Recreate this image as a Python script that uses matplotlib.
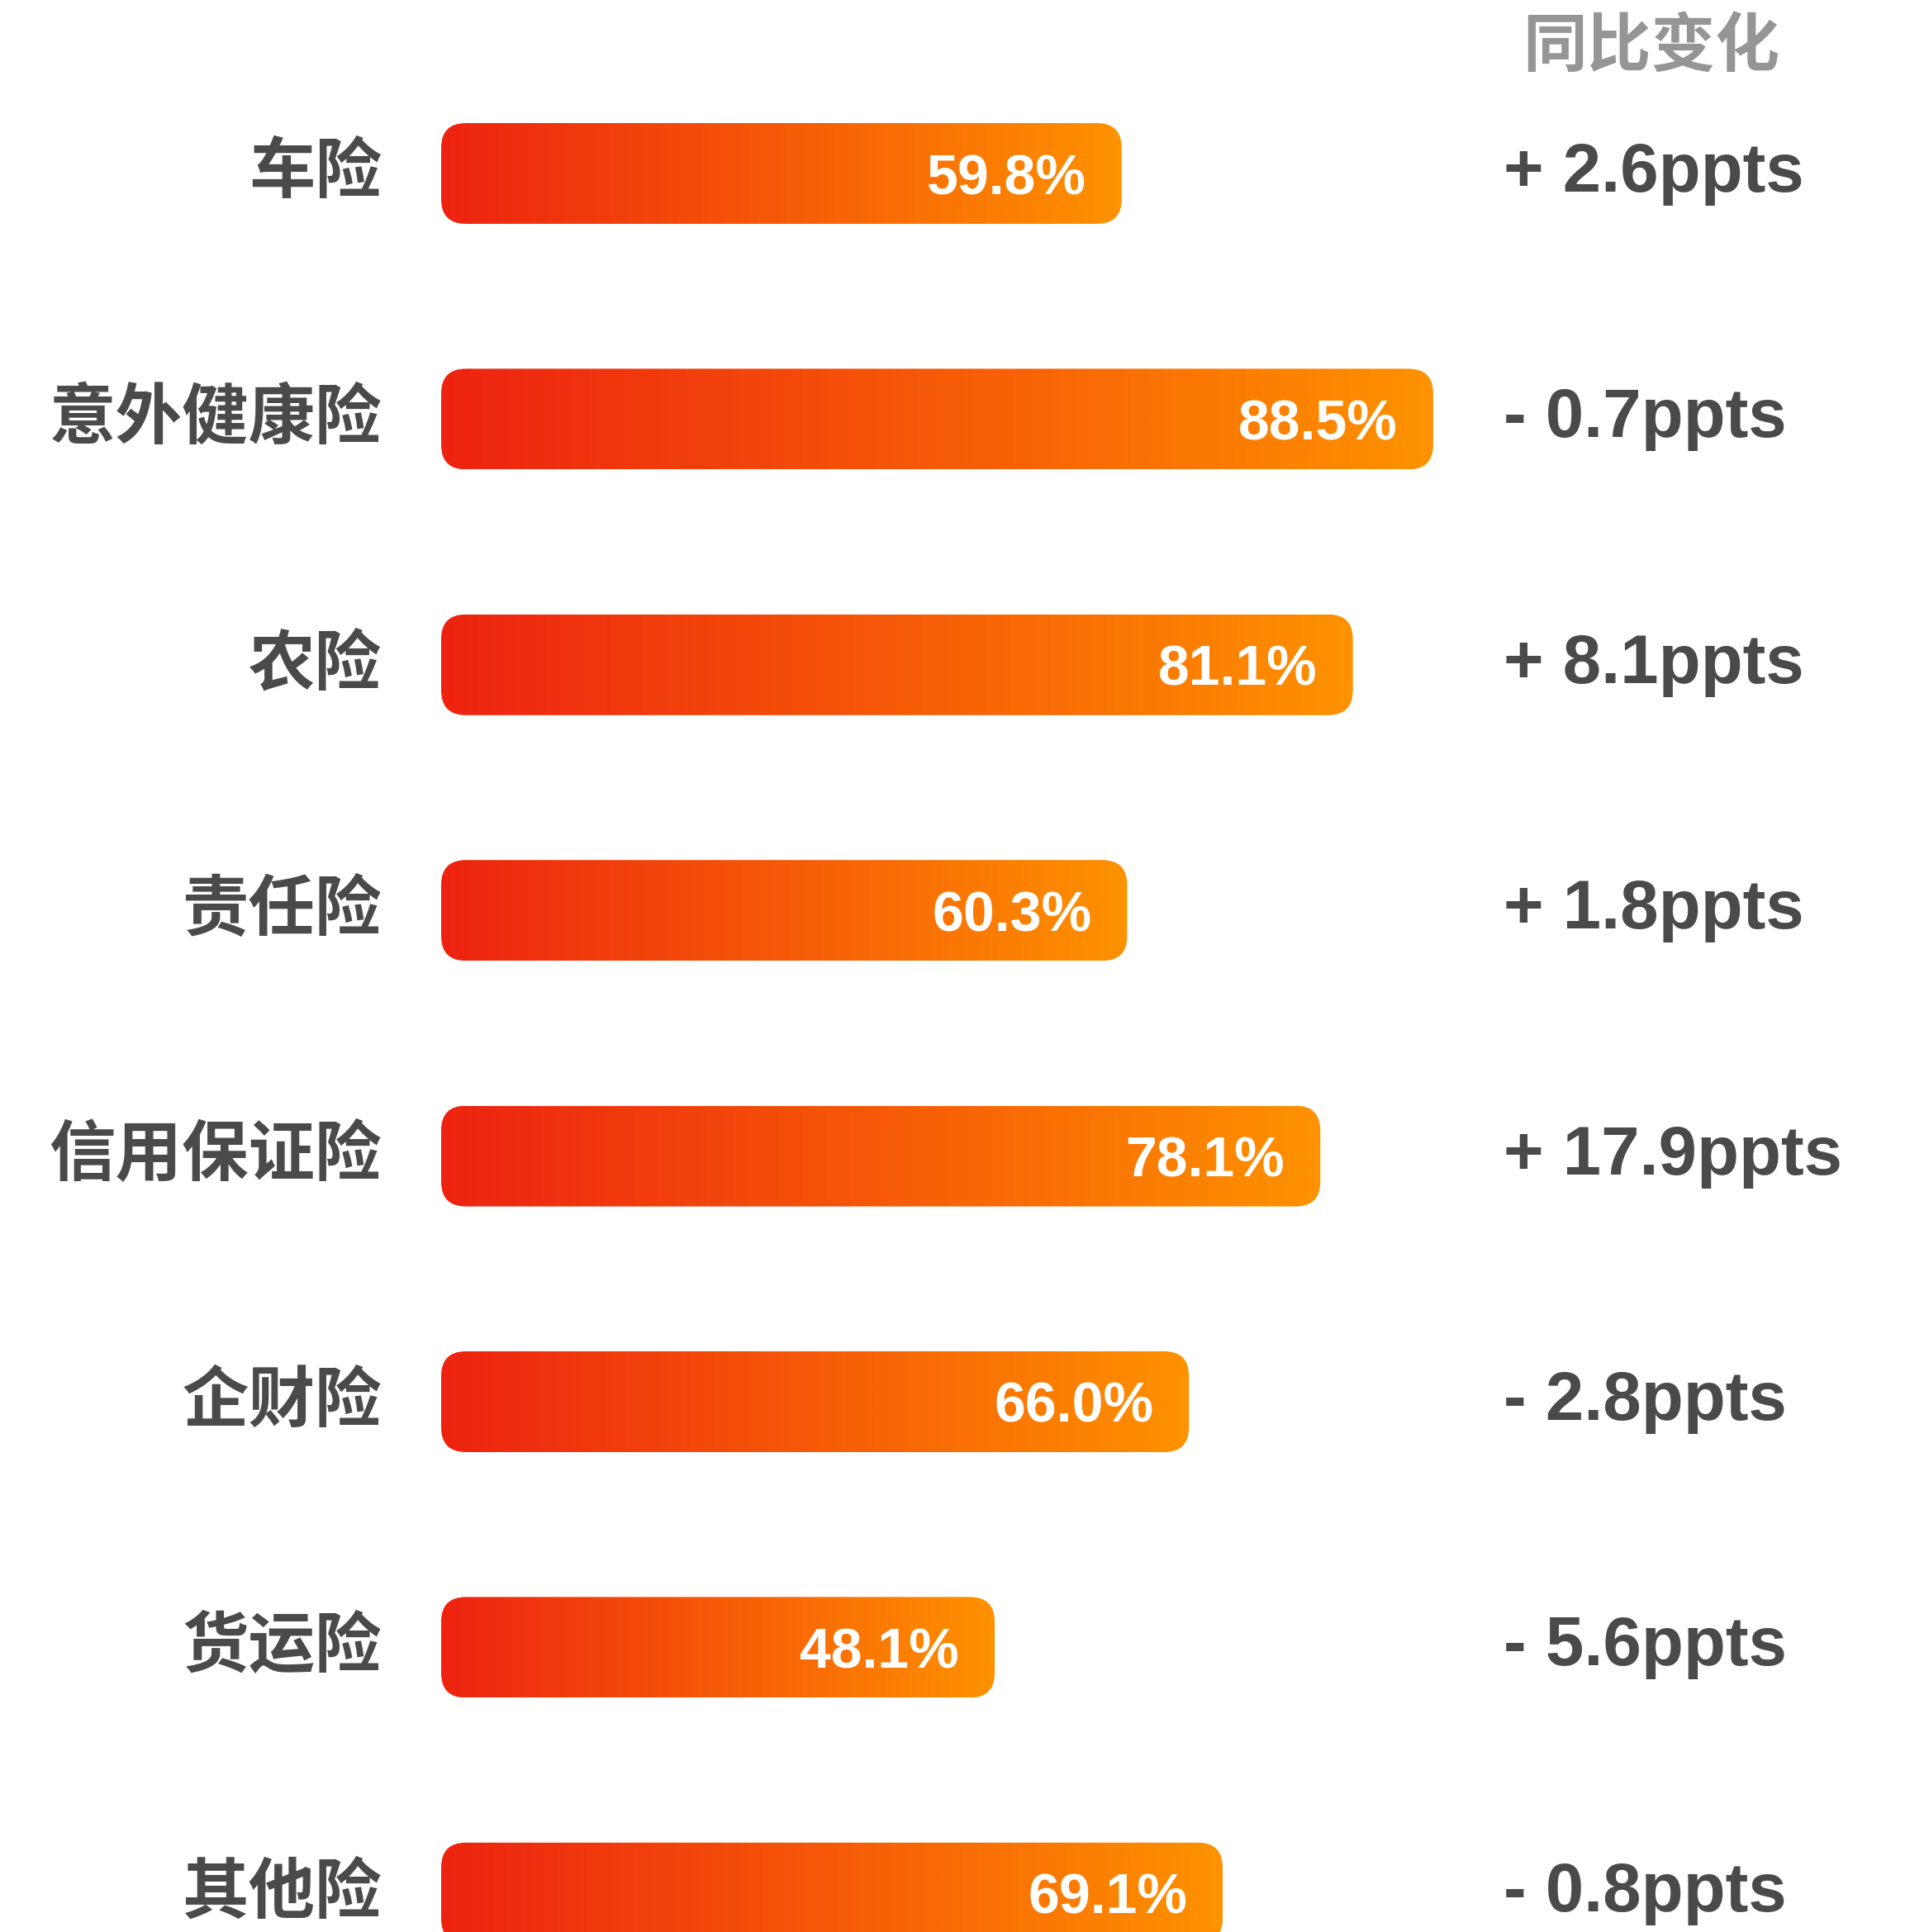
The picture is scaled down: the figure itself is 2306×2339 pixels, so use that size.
import numpy as np
import matplotlib
matplotlib.use("Agg")
import matplotlib.pyplot as plt
from matplotlib import transforms
from matplotlib.patches import FancyBboxPatch
from matplotlib.colors import LinearSegmentedColormap

plt.rcParams['font.family'] = ['Noto Sans CJK SC', 'DejaVu Sans']

# data
categories = ['车险', '意外健康险', '农险', '责任险', '信用保证险', '企财险', '货运险', '其他险']
ratios = [59.8, 88.5, 81.1, 60.3, 78.1, 66.0, 48.1, 69.1]
yoy_change = [2.6, -0.7, 8.1, 1.8, 17.9, -2.8, -5.6, -0.8]
header = '同比变化'

W, H = 2306, 2339
px_per_unit = 13.14      # horizontal scale
zero_px = 572            # pixel of value 0
row_px = 297.4           # row spacing
first_px = 210           # centre of first row from top

fig = plt.figure(figsize=(W / 100, H / 100), dpi=100)
ax = fig.add_axes([0, 0, 1, 1])
ax.axis('off')

cmap = LinearSegmentedColormap.from_list('bar', ['#ED2311', '#F65A08', '#FE9200'])
grad = np.linspace(0, 1, 256).reshape(1, -1)

bar_h = 122 / row_px
x_start = -38 / px_per_unit
rad = 30 / px_per_unit
aspect = px_per_unit / row_px

dark = '#4a4a4a'
rows = np.arange(len(categories))
for i, (cat, val, chg) in enumerate(zip(categories, ratios, yoy_change)):
    y = rows[i]
    patch = FancyBboxPatch((x_start, y - bar_h / 2), val - x_start, bar_h,
                           boxstyle=f"round,pad=0,rounding_size={rad}",
                           mutation_aspect=aspect, facecolor='none',
                           edgecolor='none')
    ax.add_patch(patch)
    im = ax.imshow(grad, extent=(x_start, val, y + bar_h / 2, y - bar_h / 2),
                   cmap=cmap, aspect='auto', interpolation='bicubic')
    im.set_clip_path(patch)

    ax.annotate(f"{val:.1f}%", xy=(val, y), xytext=(-31, 0),
                textcoords='offset points', ha='right', va='center_baseline',
                fontsize=49, fontweight='bold', color='white',
                family=['Liberation Sans', 'DejaVu Sans'])

trans = transforms.blended_transform_factory(fig.transFigure, ax.transData)
for i, cat in enumerate(categories):
    ax.text(462 / W, rows[i], cat, transform=trans, ha='right', va='center',
            fontsize=58, fontweight='bold', color=dark)

for i, chg in enumerate(yoy_change):
    sign = '+' if chg > 0 else '-'
    ax.text(1820 / W, rows[i], f"{sign} {abs(chg):.1f}ppts", transform=trans,
            ha='left', va='center', fontsize=60, fontweight='bold', color=dark,
            family=['Liberation Sans', 'DejaVu Sans'])

fig.text(1999 / W, 1 - 57 / H, header, ha='center', va='center',
         fontsize=56, fontweight='bold', color='#959595')

ax.set_xlim(-zero_px / px_per_unit, (W - zero_px) / px_per_unit)
ax.set_ylim((H - first_px) / row_px, -first_px / row_px)

fig.savefig('out.png', dpi=100, facecolor='white')
